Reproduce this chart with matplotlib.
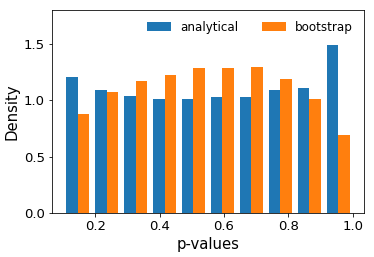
import numpy as np
import matplotlib
matplotlib.use("Agg")
import matplotlib.pyplot as plt

# histogram bins of p-values (density heights)
bin_edges = np.linspace(0.1, 1.0, 11)
analytical = [1.210, 1.087, 1.042, 1.007, 1.007, 1.027, 1.033, 1.095, 1.107, 1.491]
bootstrap = [0.874, 1.069, 1.172, 1.228, 1.290, 1.284, 1.299, 1.190, 1.010, 0.691]
labels = ["analytical", "bootstrap"]

centers = (bin_edges[:-1] + bin_edges[1:]) / 2

fig = plt.figure(figsize=(374 / 72, 257 / 72), dpi=72)
ax = fig.add_axes([0.139, 0.171, 0.834, 0.790])

ax.hist([centers, centers], bins=bin_edges, weights=[analytical, bootstrap],
        label=labels, color=["#1f77b4", "#ff7f0e"])

ax.set_ylim(0, 1.8)
ax.set_xticks([0.2, 0.4, 0.6, 0.8, 1.0])
ax.set_yticks([0.0, 0.5, 1.0, 1.5])
ax.tick_params(labelsize=13.3)
ax.set_xlabel("p-values", fontsize=14.9)
ax.set_ylabel("Density", fontsize=14.9)
ax.legend(loc="upper right", ncol=2, frameon=False, fontsize=11.9)

fig.savefig("out.png", dpi=72)
